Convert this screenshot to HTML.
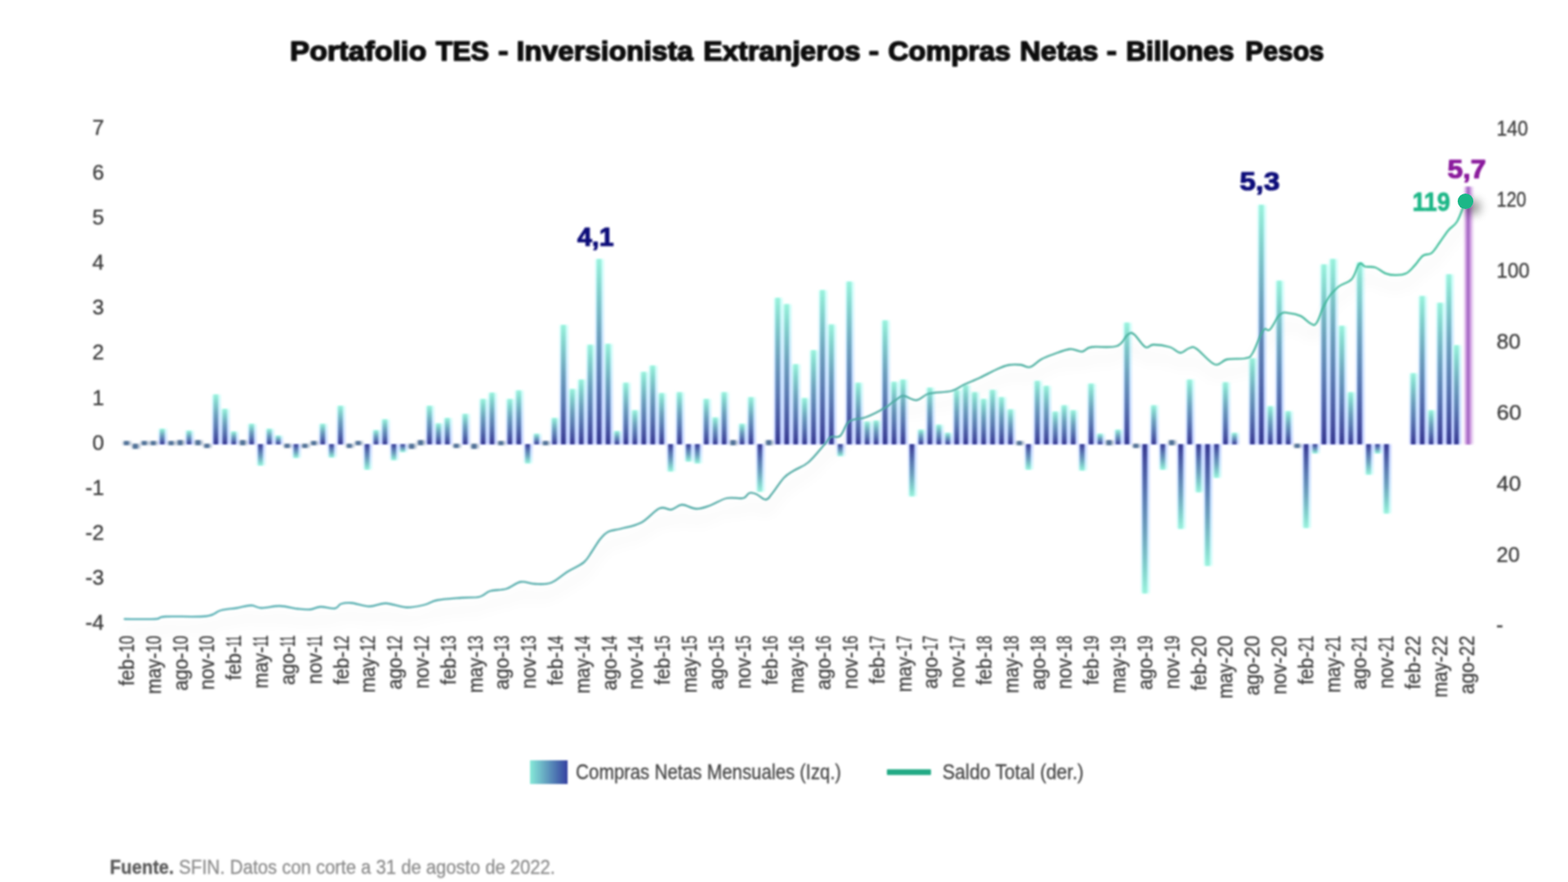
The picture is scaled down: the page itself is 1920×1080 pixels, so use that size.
<!DOCTYPE html>
<html lang="es">
<head>
<meta charset="utf-8">
<title>Portafolio TES - Inversionista Extranjeros</title>
<style>
html,body{margin:0;padding:0;background:#fff;}
body{width:1920px;height:1080px;overflow:hidden;font-family:"Liberation Sans",sans-serif;}
svg{display:block;}
text{font-family:"Liberation Sans",sans-serif;}
.ax{font-size:26px;fill:#3c3c3c;stroke:#3c3c3c;stroke-width:0.35px;}

.xl{font-size:25px;fill:#3c3c3c;stroke:#3c3c3c;stroke-width:0.35px;}
.ttl{font-size:33.5px;font-weight:bold;fill:#0a0a0a;stroke:#0a0a0a;stroke-width:1.5px;stroke-linejoin:round;}
.lg{font-size:25px;fill:#444;stroke:#444;stroke-width:0.3px;}
.ft{font-size:23px;fill:#8c8c8c;stroke:#8c8c8c;stroke-width:0.3px;}
.ftb{font-weight:bold;fill:#5a5a5a;stroke:#5a5a5a;}
.an{font-size:32px;font-weight:bold;stroke-width:1.2px;stroke-linejoin:round;}
</style>
</head>
<body>
<svg width="1920" height="1080" viewBox="0 0 1920 1080">
<defs>
<linearGradient id="gp" x1="0" y1="1" x2="0" y2="0">
<stop offset="0" stop-color="#33368e"/><stop offset="0.1" stop-color="#444d9d"/><stop offset="0.35" stop-color="#5b7ab1"/><stop offset="0.6" stop-color="#6ea2bd"/><stop offset="0.85" stop-color="#84d4cd"/><stop offset="1" stop-color="#9af2dc"/>
</linearGradient>
<linearGradient id="gn" x1="0" y1="0" x2="0" y2="1">
<stop offset="0" stop-color="#33368e"/><stop offset="0.1" stop-color="#444d9d"/><stop offset="0.35" stop-color="#5b7ab1"/><stop offset="0.6" stop-color="#6ea2bd"/><stop offset="0.85" stop-color="#84d4cd"/><stop offset="1" stop-color="#9af2dc"/>
</linearGradient>
<linearGradient id="hp" x1="0" y1="1" x2="0" y2="0"><stop offset="0" stop-color="#8098ff"/><stop offset="0.55" stop-color="#90c8ff"/><stop offset="1" stop-color="#98fff0"/></linearGradient>
<linearGradient id="hn" x1="0" y1="0" x2="0" y2="1"><stop offset="0" stop-color="#8098ff"/><stop offset="0.55" stop-color="#90c8ff"/><stop offset="1" stop-color="#98fff0"/></linearGradient>
<linearGradient id="gv" x1="0" y1="0" x2="1" y2="0"><stop offset="0" stop-color="#dca8ea"/><stop offset="0.5" stop-color="#9a5cbc"/><stop offset="1" stop-color="#dca8ea"/></linearGradient>
<linearGradient id="gline" gradientUnits="userSpaceOnUse" x1="150" y1="0" x2="1800" y2="0"><stop offset="0" stop-color="#58b0b6"/><stop offset="0.5" stop-color="#4ea8a2"/><stop offset="0.85" stop-color="#45b49c"/><stop offset="1" stop-color="#3abf98"/></linearGradient>
<linearGradient id="gl" x1="0" y1="0" x2="1" y2="0">
<stop offset="0" stop-color="#86ead8"/><stop offset="1" stop-color="#3440a0"/>
</linearGradient>
<filter id="glow" x="-2%" y="-2%" width="104%" height="104%"><feGaussianBlur stdDeviation="1.6"/></filter>
<filter id="bl" x="-2%" y="-2%" width="104%" height="104%"><feGaussianBlur stdDeviation="0.9"/></filter>
<filter id="bt" x="-2%" y="-10%" width="104%" height="120%"><feGaussianBlur stdDeviation="0.95"/></filter>
<filter id="sh" x="-5%" y="-20%" width="110%" height="150%">
<feGaussianBlur in="SourceAlpha" stdDeviation="9" result="b"/><feOffset in="b" dx="0" dy="15" result="o"/>
<feComponentTransfer in="o" result="s"><feFuncA type="linear" slope="0.13"/></feComponentTransfer>
<feGaussianBlur in="SourceGraphic" stdDeviation="0.9" result="g"/>
<feMerge><feMergeNode in="s"/><feMergeNode in="g"/></feMerge>
</filter>
<filter id="sd" x="-100%" y="-100%" width="300%" height="300%">
<feGaussianBlur in="SourceAlpha" stdDeviation="6"/><feOffset dx="9" dy="7"/>
<feComponentTransfer><feFuncA type="linear" slope="0.4"/></feComponentTransfer>
<feMerge><feMergeNode/><feMergeNode in="SourceGraphic"/></feMerge>
</filter>
</defs>
<rect width="1920" height="1080" fill="#ffffff"/>
<text class="ttl" y="74" filter="url(#bt)"><tspan x="355" textLength="167.5" lengthAdjust="spacingAndGlyphs">Portafolio</tspan> <tspan x="533.75" textLength="65" lengthAdjust="spacingAndGlyphs">TES</tspan> <tspan x="610" textLength="12.5" lengthAdjust="spacingAndGlyphs">-</tspan> <tspan x="632.5" textLength="216.25" lengthAdjust="spacingAndGlyphs">Inversionista</tspan> <tspan x="861.25" textLength="192.5" lengthAdjust="spacingAndGlyphs">Extranjeros</tspan> <tspan x="1063.75" textLength="12.5" lengthAdjust="spacingAndGlyphs">-</tspan> <tspan x="1087.5" textLength="150" lengthAdjust="spacingAndGlyphs">Compras</tspan> <tspan x="1248.75" textLength="96.25" lengthAdjust="spacingAndGlyphs">Netas</tspan> <tspan x="1355" textLength="12.5" lengthAdjust="spacingAndGlyphs">-</tspan> <tspan x="1378.75" textLength="132.5" lengthAdjust="spacingAndGlyphs">Billones</tspan> <tspan x="1525" textLength="96.25" lengthAdjust="spacingAndGlyphs">Pesos</tspan></text>
<g class="ax" text-anchor="end" filter="url(#bt)">
<text x="127.5" y="164.9">7</text>
<text x="127.5" y="220">6</text>
<text x="127.5" y="275.1">5</text>
<text x="127.5" y="330.2">4</text>
<text x="127.5" y="385.3">3</text>
<text x="127.5" y="440.4">2</text>
<text x="127.5" y="495.5">1</text>
<text x="127.5" y="550.6">0</text>
<text x="127.5" y="605.7">-1</text>
<text x="127.5" y="660.8">-2</text>
<text x="127.5" y="715.9">-3</text>
<text x="127.5" y="771">-4</text>
</g>
<g class="ax" filter="url(#bt)">
<text x="1832.5" y="166.4" textLength="38.5" lengthAdjust="spacingAndGlyphs">140</text>
<text x="1832.5" y="253.3" textLength="36.5" lengthAdjust="spacingAndGlyphs">120</text>
<text x="1832.5" y="340.2" textLength="40.5" lengthAdjust="spacingAndGlyphs">100</text>
<text x="1832.5" y="427.1" textLength="29.5" lengthAdjust="spacingAndGlyphs">80</text>
<text x="1832.5" y="514" textLength="30.5" lengthAdjust="spacingAndGlyphs">60</text>
<text x="1832.5" y="600.9" textLength="30" lengthAdjust="spacingAndGlyphs">40</text>
<text x="1832.5" y="687.8" textLength="28.5" lengthAdjust="spacingAndGlyphs">20</text>
<text x="1832" y="773.5">-</text>
</g>
<g filter="url(#glow)" opacity="0.5">
<rect x="150.2" y="540.3" width="10.5" height="4.5" fill="#4f6f96"/>
<rect x="161.15" y="543.7" width="10.5" height="5.53" fill="#4f6f96"/>
<rect x="172.09" y="540.3" width="10.5" height="4.5" fill="#4f6f96"/>
<rect x="183.04" y="540.3" width="10.5" height="4.5" fill="#4f6f96"/>
<rect x="193.99" y="525.2" width="10.5" height="18.8" fill="url(#hp)"/>
<rect x="204.94" y="540.3" width="10.5" height="4.5" fill="#4f6f96"/>
<rect x="215.88" y="539.27" width="10.5" height="5.53" fill="#4f6f96"/>
<rect x="226.83" y="527.41" width="10.5" height="16.59" fill="url(#hp)"/>
<rect x="237.78" y="539.27" width="10.5" height="5.53" fill="#4f6f96"/>
<rect x="248.72" y="543.7" width="10.5" height="4.5" fill="#4f6f96"/>
<rect x="259.67" y="483.17" width="10.5" height="60.83" fill="url(#hp)"/>
<rect x="270.62" y="500.87" width="10.5" height="43.13" fill="url(#hp)"/>
<rect x="281.56" y="528.52" width="10.5" height="15.48" fill="url(#hp)"/>
<rect x="292.51" y="539.27" width="10.5" height="5.53" fill="#4f6f96"/>
<rect x="303.4" y="519.12" width="10.5" height="24.88" fill="url(#hp)"/>
<rect x="314.28" y="544" width="10.5" height="25.99" fill="url(#hn)"/>
<rect x="325.17" y="525.2" width="10.5" height="18.8" fill="url(#hp)"/>
<rect x="336.05" y="533.49" width="10.5" height="10.51" fill="url(#hp)"/>
<rect x="346.94" y="543.7" width="10.5" height="4.5" fill="#4f6f96"/>
<rect x="357.82" y="544" width="10.5" height="16.59" fill="url(#hn)"/>
<rect x="368.71" y="543.7" width="10.5" height="4.5" fill="#4f6f96"/>
<rect x="379.59" y="540.3" width="10.5" height="4.5" fill="#4f6f96"/>
<rect x="390.48" y="519.12" width="10.5" height="24.88" fill="url(#hp)"/>
<rect x="401.36" y="544" width="10.5" height="16.04" fill="url(#hn)"/>
<rect x="412.25" y="497" width="10.5" height="47" fill="url(#hp)"/>
<rect x="423.13" y="543.7" width="10.5" height="4.5" fill="#4f6f96"/>
<rect x="434.02" y="540.3" width="10.5" height="4.5" fill="#4f6f96"/>
<rect x="444.9" y="544" width="10.5" height="30.97" fill="url(#hn)"/>
<rect x="455.79" y="526.86" width="10.5" height="17.14" fill="url(#hp)"/>
<rect x="466.67" y="513.59" width="10.5" height="30.41" fill="url(#hp)"/>
<rect x="477.56" y="544" width="10.5" height="19.35" fill="url(#hn)"/>
<rect x="488.49" y="544" width="10.5" height="9.4" fill="url(#hn)"/>
<rect x="499.42" y="543.7" width="10.5" height="5.53" fill="#4f6f96"/>
<rect x="510.35" y="539.27" width="10.5" height="5.53" fill="#4f6f96"/>
<rect x="521.28" y="497" width="10.5" height="47" fill="url(#hp)"/>
<rect x="532.21" y="518.56" width="10.5" height="25.44" fill="url(#hp)"/>
<rect x="543.14" y="511.93" width="10.5" height="32.07" fill="url(#hp)"/>
<rect x="554.07" y="543.7" width="10.5" height="4.5" fill="#4f6f96"/>
<rect x="565" y="506.95" width="10.5" height="37.05" fill="url(#hp)"/>
<rect x="575.93" y="543.7" width="10.5" height="5.53" fill="#4f6f96"/>
<rect x="586.86" y="488.7" width="10.5" height="55.3" fill="url(#hp)"/>
<rect x="597.79" y="480.96" width="10.5" height="63.04" fill="url(#hp)"/>
<rect x="608.72" y="540.3" width="10.5" height="4.5" fill="#4f6f96"/>
<rect x="619.65" y="488.7" width="10.5" height="55.3" fill="url(#hp)"/>
<rect x="630.58" y="478.19" width="10.5" height="65.81" fill="url(#hp)"/>
<rect x="641.51" y="544" width="10.5" height="23.23" fill="url(#hn)"/>
<rect x="652.45" y="531.28" width="10.5" height="12.72" fill="url(#hp)"/>
<rect x="663.38" y="540.3" width="10.5" height="4.5" fill="#4f6f96"/>
<rect x="674.31" y="511.93" width="10.5" height="32.07" fill="url(#hp)"/>
<rect x="685.24" y="398.01" width="10.5" height="145.99" fill="url(#hp)"/>
<rect x="696.17" y="476.53" width="10.5" height="67.47" fill="url(#hp)"/>
<rect x="707.1" y="464.92" width="10.5" height="79.08" fill="url(#hp)"/>
<rect x="718.03" y="422.34" width="10.5" height="121.66" fill="url(#hp)"/>
<rect x="728.96" y="317.27" width="10.5" height="226.73" fill="url(#hp)"/>
<rect x="739.89" y="421.23" width="10.5" height="122.77" fill="url(#hp)"/>
<rect x="750.83" y="527.96" width="10.5" height="16.04" fill="url(#hp)"/>
<rect x="761.77" y="468.79" width="10.5" height="75.21" fill="url(#hp)"/>
<rect x="772.71" y="502.52" width="10.5" height="41.47" fill="url(#hp)"/>
<rect x="783.65" y="455.52" width="10.5" height="88.48" fill="url(#hp)"/>
<rect x="794.58" y="447.78" width="10.5" height="96.22" fill="url(#hp)"/>
<rect x="805.52" y="481.51" width="10.5" height="62.49" fill="url(#hp)"/>
<rect x="816.46" y="544" width="10.5" height="33.18" fill="url(#hn)"/>
<rect x="827.4" y="480.41" width="10.5" height="63.59" fill="url(#hp)"/>
<rect x="838.34" y="544" width="10.5" height="21.01" fill="url(#hn)"/>
<rect x="849.28" y="544" width="10.5" height="23.23" fill="url(#hn)"/>
<rect x="860.22" y="488.7" width="10.5" height="55.3" fill="url(#hp)"/>
<rect x="871.16" y="511.37" width="10.5" height="32.63" fill="url(#hp)"/>
<rect x="882.1" y="480.41" width="10.5" height="63.59" fill="url(#hp)"/>
<rect x="893.04" y="539.27" width="10.5" height="5.53" fill="#4f6f96"/>
<rect x="903.98" y="519.12" width="10.5" height="24.88" fill="url(#hp)"/>
<rect x="914.92" y="486.49" width="10.5" height="57.51" fill="url(#hp)"/>
<rect x="925.86" y="544" width="10.5" height="58.06" fill="url(#hn)"/>
<rect x="936.8" y="539.27" width="10.5" height="5.53" fill="#4f6f96"/>
<rect x="947.73" y="364.83" width="10.5" height="179.17" fill="url(#hp)"/>
<rect x="958.67" y="372.57" width="10.5" height="171.43" fill="url(#hp)"/>
<rect x="969.61" y="446.12" width="10.5" height="97.88" fill="url(#hp)"/>
<rect x="980.55" y="487.59" width="10.5" height="56.41" fill="url(#hp)"/>
<rect x="991.49" y="428.98" width="10.5" height="115.02" fill="url(#hp)"/>
<rect x="1002.43" y="355.43" width="10.5" height="188.57" fill="url(#hp)"/>
<rect x="1013.37" y="397.46" width="10.5" height="146.54" fill="url(#hp)"/>
<rect x="1024.31" y="544" width="10.5" height="14.38" fill="url(#hn)"/>
<rect x="1035.28" y="344.92" width="10.5" height="199.08" fill="url(#hp)"/>
<rect x="1046.24" y="468.79" width="10.5" height="75.21" fill="url(#hp)"/>
<rect x="1057.21" y="516.35" width="10.5" height="27.65" fill="url(#hp)"/>
<rect x="1068.17" y="515.24" width="10.5" height="28.76" fill="url(#hp)"/>
<rect x="1079.14" y="392.48" width="10.5" height="151.52" fill="url(#hp)"/>
<rect x="1090.11" y="467.69" width="10.5" height="76.31" fill="url(#hp)"/>
<rect x="1101.07" y="464.92" width="10.5" height="79.08" fill="url(#hp)"/>
<rect x="1112.04" y="544" width="10.5" height="63.59" fill="url(#hn)"/>
<rect x="1123" y="526.3" width="10.5" height="17.7" fill="url(#hp)"/>
<rect x="1133.97" y="474.88" width="10.5" height="69.12" fill="url(#hp)"/>
<rect x="1144.94" y="520.22" width="10.5" height="23.78" fill="url(#hp)"/>
<rect x="1155.9" y="530.17" width="10.5" height="13.82" fill="url(#hp)"/>
<rect x="1166.87" y="477.64" width="10.5" height="66.36" fill="url(#hp)"/>
<rect x="1177.83" y="471.56" width="10.5" height="72.44" fill="url(#hp)"/>
<rect x="1188.8" y="480.41" width="10.5" height="63.59" fill="url(#hp)"/>
<rect x="1199.77" y="488.7" width="10.5" height="55.3" fill="url(#hp)"/>
<rect x="1210.73" y="477.64" width="10.5" height="66.36" fill="url(#hp)"/>
<rect x="1221.7" y="486.49" width="10.5" height="57.51" fill="url(#hp)"/>
<rect x="1232.66" y="501.42" width="10.5" height="42.58" fill="url(#hp)"/>
<rect x="1243.63" y="540.3" width="10.5" height="4.5" fill="#4f6f96"/>
<rect x="1254.6" y="544" width="10.5" height="30.97" fill="url(#hn)"/>
<rect x="1265.57" y="466.58" width="10.5" height="77.42" fill="url(#hp)"/>
<rect x="1276.54" y="472.66" width="10.5" height="71.34" fill="url(#hp)"/>
<rect x="1287.51" y="504.18" width="10.5" height="39.82" fill="url(#hp)"/>
<rect x="1298.48" y="496.44" width="10.5" height="47.56" fill="url(#hp)"/>
<rect x="1309.45" y="502.52" width="10.5" height="41.47" fill="url(#hp)"/>
<rect x="1320.42" y="544" width="10.5" height="32.07" fill="url(#hn)"/>
<rect x="1331.39" y="469.9" width="10.5" height="74.1" fill="url(#hp)"/>
<rect x="1342.37" y="531.28" width="10.5" height="12.72" fill="url(#hp)"/>
<rect x="1353.34" y="539.27" width="10.5" height="5.53" fill="#4f6f96"/>
<rect x="1364.31" y="526.3" width="10.5" height="17.7" fill="url(#hp)"/>
<rect x="1375.28" y="395.24" width="10.5" height="148.76" fill="url(#hp)"/>
<rect x="1386.25" y="543.7" width="10.5" height="4.5" fill="#4f6f96"/>
<rect x="1397.22" y="544" width="10.5" height="182.49" fill="url(#hn)"/>
<rect x="1408.19" y="496.44" width="10.5" height="47.56" fill="url(#hp)"/>
<rect x="1419.16" y="544" width="10.5" height="30.97" fill="url(#hn)"/>
<rect x="1430.14" y="539.27" width="10.5" height="5.53" fill="#4f6f96"/>
<rect x="1441.11" y="544" width="10.5" height="103.41" fill="url(#hn)"/>
<rect x="1452.08" y="464.92" width="10.5" height="79.08" fill="url(#hp)"/>
<rect x="1463.05" y="544" width="10.5" height="58.62" fill="url(#hn)"/>
<rect x="1474.02" y="544" width="10.5" height="148.76" fill="url(#hn)"/>
<rect x="1484.99" y="544" width="10.5" height="40.92" fill="url(#hn)"/>
<rect x="1495.96" y="468.24" width="10.5" height="75.76" fill="url(#hp)"/>
<rect x="1506.93" y="530.17" width="10.5" height="13.82" fill="url(#hp)"/>
<rect x="1528.88" y="438.93" width="10.5" height="105.07" fill="url(#hp)"/>
<rect x="1539.85" y="250.91" width="10.5" height="293.09" fill="url(#hp)"/>
<rect x="1550.82" y="497.55" width="10.5" height="46.45" fill="url(#hp)"/>
<rect x="1561.79" y="343.81" width="10.5" height="200.19" fill="url(#hp)"/>
<rect x="1572.76" y="503.63" width="10.5" height="40.37" fill="url(#hp)"/>
<rect x="1583.7" y="543.7" width="10.5" height="4.5" fill="#4f6f96"/>
<rect x="1594.63" y="544" width="10.5" height="102.3" fill="url(#hn)"/>
<rect x="1605.57" y="544" width="10.5" height="11.06" fill="url(#hn)"/>
<rect x="1616.5" y="323.91" width="10.5" height="220.09" fill="url(#hp)"/>
<rect x="1627.44" y="317.27" width="10.5" height="226.73" fill="url(#hp)"/>
<rect x="1638.38" y="399.11" width="10.5" height="144.89" fill="url(#hp)"/>
<rect x="1649.31" y="480.41" width="10.5" height="63.59" fill="url(#hp)"/>
<rect x="1660.25" y="321.69" width="10.5" height="222.31" fill="url(#hp)"/>
<rect x="1671.18" y="544" width="10.5" height="37.05" fill="url(#hn)"/>
<rect x="1682.12" y="544" width="10.5" height="11.06" fill="url(#hn)"/>
<rect x="1693.05" y="544" width="10.5" height="84.61" fill="url(#hn)"/>
<rect x="1725.86" y="457.18" width="10.5" height="86.82" fill="url(#hp)"/>
<rect x="1736.8" y="362.62" width="10.5" height="181.38" fill="url(#hp)"/>
<rect x="1747.73" y="502.52" width="10.5" height="41.47" fill="url(#hp)"/>
<rect x="1758.67" y="370.91" width="10.5" height="173.09" fill="url(#hp)"/>
<rect x="1769.61" y="336.07" width="10.5" height="207.93" fill="url(#hp)"/>
<rect x="1778.75" y="422.89" width="10.5" height="121.11" fill="url(#hp)"/>
<rect x="1792.65" y="228.79" width="11.5" height="315.21" fill="url(#gv)"/>
</g>
<g filter="url(#bl)">
<rect x="152.05" y="540.3" width="5.6" height="4.5" fill="#4f6f96"/>
<rect x="163" y="543.7" width="5.6" height="5.53" fill="#4f6f96"/>
<rect x="173.94" y="540.3" width="5.6" height="4.5" fill="#4f6f96"/>
<rect x="184.89" y="540.3" width="5.6" height="4.5" fill="#4f6f96"/>
<rect x="195.84" y="525.2" width="5.6" height="18.8" fill="url(#gp)"/>
<rect x="206.79" y="540.3" width="5.6" height="4.5" fill="#4f6f96"/>
<rect x="217.73" y="539.27" width="5.6" height="5.53" fill="#4f6f96"/>
<rect x="228.68" y="527.41" width="5.6" height="16.59" fill="url(#gp)"/>
<rect x="239.63" y="539.27" width="5.6" height="5.53" fill="#4f6f96"/>
<rect x="250.57" y="543.7" width="5.6" height="4.5" fill="#4f6f96"/>
<rect x="261.52" y="483.17" width="5.6" height="60.83" fill="url(#gp)"/>
<rect x="272.47" y="500.87" width="5.6" height="43.13" fill="url(#gp)"/>
<rect x="283.41" y="528.52" width="5.6" height="15.48" fill="url(#gp)"/>
<rect x="294.36" y="539.27" width="5.6" height="5.53" fill="#4f6f96"/>
<rect x="305.25" y="519.12" width="5.6" height="24.88" fill="url(#gp)"/>
<rect x="316.13" y="544" width="5.6" height="25.99" fill="url(#gn)"/>
<rect x="327.02" y="525.2" width="5.6" height="18.8" fill="url(#gp)"/>
<rect x="337.9" y="533.49" width="5.6" height="10.51" fill="url(#gp)"/>
<rect x="348.79" y="543.7" width="5.6" height="4.5" fill="#4f6f96"/>
<rect x="359.67" y="544" width="5.6" height="16.59" fill="url(#gn)"/>
<rect x="370.56" y="543.7" width="5.6" height="4.5" fill="#4f6f96"/>
<rect x="381.44" y="540.3" width="5.6" height="4.5" fill="#4f6f96"/>
<rect x="392.33" y="519.12" width="5.6" height="24.88" fill="url(#gp)"/>
<rect x="403.21" y="544" width="5.6" height="16.04" fill="url(#gn)"/>
<rect x="414.1" y="497" width="5.6" height="47" fill="url(#gp)"/>
<rect x="424.98" y="543.7" width="5.6" height="4.5" fill="#4f6f96"/>
<rect x="435.87" y="540.3" width="5.6" height="4.5" fill="#4f6f96"/>
<rect x="446.75" y="544" width="5.6" height="30.97" fill="url(#gn)"/>
<rect x="457.64" y="526.86" width="5.6" height="17.14" fill="url(#gp)"/>
<rect x="468.52" y="513.59" width="5.6" height="30.41" fill="url(#gp)"/>
<rect x="479.41" y="544" width="5.6" height="19.35" fill="url(#gn)"/>
<rect x="490.34" y="544" width="5.6" height="9.4" fill="url(#gn)"/>
<rect x="501.27" y="543.7" width="5.6" height="5.53" fill="#4f6f96"/>
<rect x="512.2" y="539.27" width="5.6" height="5.53" fill="#4f6f96"/>
<rect x="523.13" y="497" width="5.6" height="47" fill="url(#gp)"/>
<rect x="534.06" y="518.56" width="5.6" height="25.44" fill="url(#gp)"/>
<rect x="544.99" y="511.93" width="5.6" height="32.07" fill="url(#gp)"/>
<rect x="555.92" y="543.7" width="5.6" height="4.5" fill="#4f6f96"/>
<rect x="566.85" y="506.95" width="5.6" height="37.05" fill="url(#gp)"/>
<rect x="577.78" y="543.7" width="5.6" height="5.53" fill="#4f6f96"/>
<rect x="588.71" y="488.7" width="5.6" height="55.3" fill="url(#gp)"/>
<rect x="599.64" y="480.96" width="5.6" height="63.04" fill="url(#gp)"/>
<rect x="610.57" y="540.3" width="5.6" height="4.5" fill="#4f6f96"/>
<rect x="621.5" y="488.7" width="5.6" height="55.3" fill="url(#gp)"/>
<rect x="632.43" y="478.19" width="5.6" height="65.81" fill="url(#gp)"/>
<rect x="643.37" y="544" width="5.6" height="23.23" fill="url(#gn)"/>
<rect x="654.3" y="531.28" width="5.6" height="12.72" fill="url(#gp)"/>
<rect x="665.23" y="540.3" width="5.6" height="4.5" fill="#4f6f96"/>
<rect x="676.16" y="511.93" width="5.6" height="32.07" fill="url(#gp)"/>
<rect x="687.09" y="398.01" width="5.6" height="145.99" fill="url(#gp)"/>
<rect x="698.02" y="476.53" width="5.6" height="67.47" fill="url(#gp)"/>
<rect x="708.95" y="464.92" width="5.6" height="79.08" fill="url(#gp)"/>
<rect x="719.88" y="422.34" width="5.6" height="121.66" fill="url(#gp)"/>
<rect x="730.81" y="317.27" width="5.6" height="226.73" fill="url(#gp)"/>
<rect x="741.74" y="421.23" width="5.6" height="122.77" fill="url(#gp)"/>
<rect x="752.68" y="527.96" width="5.6" height="16.04" fill="url(#gp)"/>
<rect x="763.62" y="468.79" width="5.6" height="75.21" fill="url(#gp)"/>
<rect x="774.56" y="502.52" width="5.6" height="41.47" fill="url(#gp)"/>
<rect x="785.5" y="455.52" width="5.6" height="88.48" fill="url(#gp)"/>
<rect x="796.43" y="447.78" width="5.6" height="96.22" fill="url(#gp)"/>
<rect x="807.37" y="481.51" width="5.6" height="62.49" fill="url(#gp)"/>
<rect x="818.31" y="544" width="5.6" height="33.18" fill="url(#gn)"/>
<rect x="829.25" y="480.41" width="5.6" height="63.59" fill="url(#gp)"/>
<rect x="840.19" y="544" width="5.6" height="21.01" fill="url(#gn)"/>
<rect x="851.13" y="544" width="5.6" height="23.23" fill="url(#gn)"/>
<rect x="862.07" y="488.7" width="5.6" height="55.3" fill="url(#gp)"/>
<rect x="873.01" y="511.37" width="5.6" height="32.63" fill="url(#gp)"/>
<rect x="883.95" y="480.41" width="5.6" height="63.59" fill="url(#gp)"/>
<rect x="894.89" y="539.27" width="5.6" height="5.53" fill="#4f6f96"/>
<rect x="905.83" y="519.12" width="5.6" height="24.88" fill="url(#gp)"/>
<rect x="916.77" y="486.49" width="5.6" height="57.51" fill="url(#gp)"/>
<rect x="927.71" y="544" width="5.6" height="58.06" fill="url(#gn)"/>
<rect x="938.65" y="539.27" width="5.6" height="5.53" fill="#4f6f96"/>
<rect x="949.58" y="364.83" width="5.6" height="179.17" fill="url(#gp)"/>
<rect x="960.52" y="372.57" width="5.6" height="171.43" fill="url(#gp)"/>
<rect x="971.46" y="446.12" width="5.6" height="97.88" fill="url(#gp)"/>
<rect x="982.4" y="487.59" width="5.6" height="56.41" fill="url(#gp)"/>
<rect x="993.34" y="428.98" width="5.6" height="115.02" fill="url(#gp)"/>
<rect x="1004.28" y="355.43" width="5.6" height="188.57" fill="url(#gp)"/>
<rect x="1015.22" y="397.46" width="5.6" height="146.54" fill="url(#gp)"/>
<rect x="1026.16" y="544" width="5.6" height="14.38" fill="url(#gn)"/>
<rect x="1037.13" y="344.92" width="5.6" height="199.08" fill="url(#gp)"/>
<rect x="1048.09" y="468.79" width="5.6" height="75.21" fill="url(#gp)"/>
<rect x="1059.06" y="516.35" width="5.6" height="27.65" fill="url(#gp)"/>
<rect x="1070.02" y="515.24" width="5.6" height="28.76" fill="url(#gp)"/>
<rect x="1080.99" y="392.48" width="5.6" height="151.52" fill="url(#gp)"/>
<rect x="1091.96" y="467.69" width="5.6" height="76.31" fill="url(#gp)"/>
<rect x="1102.92" y="464.92" width="5.6" height="79.08" fill="url(#gp)"/>
<rect x="1113.89" y="544" width="5.6" height="63.59" fill="url(#gn)"/>
<rect x="1124.85" y="526.3" width="5.6" height="17.7" fill="url(#gp)"/>
<rect x="1135.82" y="474.88" width="5.6" height="69.12" fill="url(#gp)"/>
<rect x="1146.79" y="520.22" width="5.6" height="23.78" fill="url(#gp)"/>
<rect x="1157.75" y="530.17" width="5.6" height="13.82" fill="url(#gp)"/>
<rect x="1168.72" y="477.64" width="5.6" height="66.36" fill="url(#gp)"/>
<rect x="1179.68" y="471.56" width="5.6" height="72.44" fill="url(#gp)"/>
<rect x="1190.65" y="480.41" width="5.6" height="63.59" fill="url(#gp)"/>
<rect x="1201.62" y="488.7" width="5.6" height="55.3" fill="url(#gp)"/>
<rect x="1212.58" y="477.64" width="5.6" height="66.36" fill="url(#gp)"/>
<rect x="1223.55" y="486.49" width="5.6" height="57.51" fill="url(#gp)"/>
<rect x="1234.51" y="501.42" width="5.6" height="42.58" fill="url(#gp)"/>
<rect x="1245.48" y="540.3" width="5.6" height="4.5" fill="#4f6f96"/>
<rect x="1256.45" y="544" width="5.6" height="30.97" fill="url(#gn)"/>
<rect x="1267.42" y="466.58" width="5.6" height="77.42" fill="url(#gp)"/>
<rect x="1278.39" y="472.66" width="5.6" height="71.34" fill="url(#gp)"/>
<rect x="1289.36" y="504.18" width="5.6" height="39.82" fill="url(#gp)"/>
<rect x="1300.33" y="496.44" width="5.6" height="47.56" fill="url(#gp)"/>
<rect x="1311.3" y="502.52" width="5.6" height="41.47" fill="url(#gp)"/>
<rect x="1322.27" y="544" width="5.6" height="32.07" fill="url(#gn)"/>
<rect x="1333.24" y="469.9" width="5.6" height="74.1" fill="url(#gp)"/>
<rect x="1344.22" y="531.28" width="5.6" height="12.72" fill="url(#gp)"/>
<rect x="1355.19" y="539.27" width="5.6" height="5.53" fill="#4f6f96"/>
<rect x="1366.16" y="526.3" width="5.6" height="17.7" fill="url(#gp)"/>
<rect x="1377.13" y="395.24" width="5.6" height="148.76" fill="url(#gp)"/>
<rect x="1388.1" y="543.7" width="5.6" height="4.5" fill="#4f6f96"/>
<rect x="1399.07" y="544" width="5.6" height="182.49" fill="url(#gn)"/>
<rect x="1410.04" y="496.44" width="5.6" height="47.56" fill="url(#gp)"/>
<rect x="1421.01" y="544" width="5.6" height="30.97" fill="url(#gn)"/>
<rect x="1431.99" y="539.27" width="5.6" height="5.53" fill="#4f6f96"/>
<rect x="1442.96" y="544" width="5.6" height="103.41" fill="url(#gn)"/>
<rect x="1453.93" y="464.92" width="5.6" height="79.08" fill="url(#gp)"/>
<rect x="1464.9" y="544" width="5.6" height="58.62" fill="url(#gn)"/>
<rect x="1475.87" y="544" width="5.6" height="148.76" fill="url(#gn)"/>
<rect x="1486.84" y="544" width="5.6" height="40.92" fill="url(#gn)"/>
<rect x="1497.81" y="468.24" width="5.6" height="75.76" fill="url(#gp)"/>
<rect x="1508.78" y="530.17" width="5.6" height="13.82" fill="url(#gp)"/>
<rect x="1530.73" y="438.93" width="5.6" height="105.07" fill="url(#gp)"/>
<rect x="1541.7" y="250.91" width="5.6" height="293.09" fill="url(#gp)"/>
<rect x="1552.67" y="497.55" width="5.6" height="46.45" fill="url(#gp)"/>
<rect x="1563.64" y="343.81" width="5.6" height="200.19" fill="url(#gp)"/>
<rect x="1574.61" y="503.63" width="5.6" height="40.37" fill="url(#gp)"/>
<rect x="1585.55" y="543.7" width="5.6" height="4.5" fill="#4f6f96"/>
<rect x="1596.48" y="544" width="5.6" height="102.3" fill="url(#gn)"/>
<rect x="1607.42" y="544" width="5.6" height="11.06" fill="url(#gn)"/>
<rect x="1618.35" y="323.91" width="5.6" height="220.09" fill="url(#gp)"/>
<rect x="1629.29" y="317.27" width="5.6" height="226.73" fill="url(#gp)"/>
<rect x="1640.23" y="399.11" width="5.6" height="144.89" fill="url(#gp)"/>
<rect x="1651.16" y="480.41" width="5.6" height="63.59" fill="url(#gp)"/>
<rect x="1662.1" y="321.69" width="5.6" height="222.31" fill="url(#gp)"/>
<rect x="1673.03" y="544" width="5.6" height="37.05" fill="url(#gn)"/>
<rect x="1683.97" y="544" width="5.6" height="11.06" fill="url(#gn)"/>
<rect x="1694.9" y="544" width="5.6" height="84.61" fill="url(#gn)"/>
<rect x="1727.71" y="457.18" width="5.6" height="86.82" fill="url(#gp)"/>
<rect x="1738.65" y="362.62" width="5.6" height="181.38" fill="url(#gp)"/>
<rect x="1749.58" y="502.52" width="5.6" height="41.47" fill="url(#gp)"/>
<rect x="1760.52" y="370.91" width="5.6" height="173.09" fill="url(#gp)"/>
<rect x="1771.46" y="336.07" width="5.6" height="207.93" fill="url(#gp)"/>
<rect x="1780.6" y="422.89" width="5.6" height="121.11" fill="url(#gp)"/>
<rect x="1794.5" y="228.79" width="6.6" height="315.21" fill="url(#gv)"/>
</g>
<path d="M152.5,758 C159.25,758 181,758.54 190,758 C199,757.46 191.25,755.63 202.5,755 C213.75,754.37 240.35,755.85 252.5,754.5 C264.65,753.15 263.25,749.3 270,747.5 C276.75,745.7 283.25,745.62 290,744.5 C296.75,743.38 302.1,741.25 307.5,741.25 C312.9,741.25 313.7,744.37 320,744.5 C326.3,744.63 334.4,741.82 342.5,742 C350.6,742.18 358.25,744.74 365,745.5 C371.75,746.26 375.05,746.7 380,746.25 C384.95,745.8 387.1,743.23 392.5,743 C397.9,742.77 405.5,745.63 410,745 C414.5,744.37 413.9,740.72 417.5,739.5 C421.1,738.28 423.7,737.71 430,738.25 C436.3,738.79 444.85,742.41 452.5,742.5 C460.15,742.59 464.4,738.52 472.5,738.75 C480.6,738.98 488.95,743.43 497.5,743.75 C506.05,744.07 513.25,742.08 520,740.5 C526.75,738.92 526.9,736.53 535,735 C543.1,733.47 555.55,732.76 565,732 C574.45,731.24 581.2,732.24 587.5,730.75 C593.8,729.26 594.15,725.5 600,723.75 C605.85,722 613.25,723.02 620,721 C626.75,718.98 631.2,713.58 637.5,712.5 C643.8,711.42 648.25,714.82 655,715 C661.75,715.18 667.8,716.2 675,713.5 C682.2,710.8 687.8,704.5 695,700 C702.2,695.5 709.6,693 715,688.5 C720.4,684 721.4,680.13 725,675 C728.6,669.87 731.4,664.32 735,660 C738.6,655.68 740.5,653.25 745,651 C749.5,648.75 752.8,649.48 760,647.5 C767.2,645.52 776.45,644.5 785,640 C793.55,635.5 800.84,625.38 807.5,622.5 C814.16,619.62 817.05,624.81 822,624 C826.95,623.19 829.51,618.18 835,618 C840.49,617.82 846.2,622.87 852.5,623 C858.8,623.13 863.25,621.09 870,618.75 C876.75,616.41 882.8,611.58 890,610 C897.2,608.42 905.05,611.12 910,610 C914.95,608.88 914.62,604.65 917.5,603.75 C920.38,602.85 922.4,603.56 926,605 C929.6,606.44 934.08,611.75 937.5,611.75 C940.92,611.75 940.95,609.82 945,605 C949.05,600.18 955.05,590.22 960,585 C964.95,579.78 967.1,579.42 972.5,576 C977.9,572.58 983.25,571.8 990,566 C996.75,560.2 1005.05,549.33 1010,543.75 C1014.95,538.17 1014.12,536.8 1017.5,535 C1020.88,533.2 1024.7,537.17 1028.75,533.75 C1032.8,530.33 1034.38,520.1 1040,516 C1045.62,511.9 1052.35,513.88 1060,511 C1067.65,508.12 1075.3,504.23 1082.5,500 C1089.7,495.77 1095.5,490.2 1100,487.5 C1104.5,484.8 1103.45,484.55 1107.5,485 C1111.55,485.45 1117.1,490.54 1122.5,490 C1127.9,489.46 1129.85,484.02 1137.5,482 C1145.15,479.98 1157.35,480.69 1165,478.75 C1172.65,476.81 1173.7,474.18 1180,471.25 C1186.3,468.32 1192.8,465.88 1200,462.5 C1207.2,459.12 1213.7,455.29 1220,452.5 C1226.3,449.71 1229.6,448.04 1235,447 C1240.4,445.96 1245.28,446.3 1250,446.75 C1254.72,447.2 1256.75,450.71 1261.25,449.5 C1265.75,448.29 1269.83,442.83 1275,440 C1280.17,437.17 1283.7,436 1290,433.75 C1296.3,431.5 1303.7,428.08 1310,427.5 C1316.3,426.92 1320.28,430.95 1325,430.5 C1329.72,430.05 1328.6,426.21 1336.25,425 C1343.9,423.79 1359.4,426.54 1367.5,423.75 C1375.6,420.96 1377.42,412.06 1381.25,409.5 C1385.08,406.94 1384.92,406.71 1388.75,409.5 C1392.58,412.29 1398.22,422.75 1402.5,425 C1406.78,427.25 1407.1,422 1412.5,422 C1417.9,422 1426.65,423.2 1432.5,425 C1438.35,426.8 1440.72,431.77 1445,432 C1449.28,432.23 1452.65,427.15 1456.25,426.25 C1459.85,425.35 1459.38,423.4 1465,427 C1470.62,430.6 1480.75,443.91 1487.5,446.25 C1494.25,448.59 1495.75,441.35 1502.5,440 C1509.25,438.65 1519.38,440.1 1525,438.75 C1530.62,437.4 1529.84,438.65 1533.75,432.5 C1537.66,426.35 1542.88,409.82 1546.7,404.6 C1550.53,399.38 1551.26,407.06 1555,403.5 C1558.74,399.94 1563.36,388.44 1567.5,384.8 C1571.64,381.16 1573.5,382.92 1578,383.3 C1582.5,383.68 1587.64,384.57 1592.5,386.9 C1597.36,389.23 1601.44,394.76 1605,396.25 C1608.56,397.74 1608.92,400.07 1612.3,395.2 C1615.67,390.33 1619.07,377.07 1623.75,369.2 C1628.43,361.33 1632.67,356.4 1638.3,351.5 C1643.92,346.6 1650.3,347.08 1655,342 C1659.7,336.92 1661.39,326.09 1664.4,323.3 C1667.41,320.51 1668.14,325.74 1671.7,326.5 C1675.26,327.26 1679.7,326.01 1684.2,327.5 C1688.7,328.99 1692.2,333.11 1696.7,334.8 C1701.2,336.49 1704.7,336.9 1709.2,336.9 C1713.7,336.9 1717.6,336.87 1721.7,334.8 C1725.8,332.73 1728.26,329.32 1732,325.4 C1735.74,321.48 1738.72,315.81 1742.5,313 C1746.28,310.19 1749.26,312.81 1753,309.8 C1756.74,306.79 1759.57,301.31 1763.3,296.25 C1767.03,291.19 1769.99,286.2 1773.75,281.7 C1777.51,277.2 1780.52,277.5 1784.2,271.25 C1787.88,265 1792.4,251.37 1794.2,247" fill="none" stroke="url(#gline)" stroke-width="2.3" stroke-linejoin="round" stroke-linecap="round" filter="url(#sh)"/>
<circle cx="1794.5" cy="246.5" r="9.6" fill="#1db787" filter="url(#sd)"/>
<g filter="url(#bt)">
<text class="an" x="707" y="301.3" textLength="44.5" lengthAdjust="spacingAndGlyphs" fill="#10107a" stroke="#10107a">4,1</text>
<text class="an" x="1518" y="232.5" textLength="49" lengthAdjust="spacingAndGlyphs" fill="#10107a" stroke="#10107a">5,3</text>
<text class="an" x="1772.5" y="218" textLength="47" lengthAdjust="spacingAndGlyphs" fill="#8a1a9c" stroke="#8a1a9c">5,7</text>
<text class="an" x="1729.5" y="257.5" textLength="46" lengthAdjust="spacingAndGlyphs" fill="#1db787" stroke="#1db787" style="stroke-width:0.9px">119</text>
</g>
<g class="xl" filter="url(#bt)">
<text transform="translate(155.3,778.3) rotate(-90)" y="8.7"><tspan x="-61.55" textLength="40.75" lengthAdjust="spacingAndGlyphs">feb-</tspan><tspan x="-20.8" textLength="20.8" lengthAdjust="spacingAndGlyphs">10</tspan></text>
<text transform="translate(188.11,778.3) rotate(-90)" y="8.7"><tspan x="-71.55" textLength="50.75" lengthAdjust="spacingAndGlyphs">may-</tspan><tspan x="-20.8" textLength="20.8" lengthAdjust="spacingAndGlyphs">10</tspan></text>
<text transform="translate(220.93,778.3) rotate(-90)" y="8.7"><tspan x="-67.55" textLength="46.75" lengthAdjust="spacingAndGlyphs">ago-</tspan><tspan x="-20.8" textLength="20.8" lengthAdjust="spacingAndGlyphs">10</tspan></text>
<text transform="translate(253.74,778.3) rotate(-90)" y="8.7"><tspan x="-66.55" textLength="45.75" lengthAdjust="spacingAndGlyphs">nov-</tspan><tspan x="-20.8" textLength="20.8" lengthAdjust="spacingAndGlyphs">10</tspan></text>
<text transform="translate(286.56,778.3) rotate(-90)" y="8.7"><tspan x="-54.35" textLength="40.75" lengthAdjust="spacingAndGlyphs">feb-</tspan><tspan x="-13.6" textLength="13.6" lengthAdjust="spacingAndGlyphs">11</tspan></text>
<text transform="translate(319.37,778.3) rotate(-90)" y="8.7"><tspan x="-64.35" textLength="50.75" lengthAdjust="spacingAndGlyphs">may-</tspan><tspan x="-13.6" textLength="13.6" lengthAdjust="spacingAndGlyphs">11</tspan></text>
<text transform="translate(352.18,778.3) rotate(-90)" y="8.7"><tspan x="-60.35" textLength="46.75" lengthAdjust="spacingAndGlyphs">ago-</tspan><tspan x="-13.6" textLength="13.6" lengthAdjust="spacingAndGlyphs">11</tspan></text>
<text transform="translate(385,778.3) rotate(-90)" y="8.7"><tspan x="-59.35" textLength="45.75" lengthAdjust="spacingAndGlyphs">nov-</tspan><tspan x="-13.6" textLength="13.6" lengthAdjust="spacingAndGlyphs">11</tspan></text>
<text transform="translate(417.81,778.3) rotate(-90)" y="8.7"><tspan x="-60.05" textLength="40.75" lengthAdjust="spacingAndGlyphs">feb-</tspan><tspan x="-19.3" textLength="19.3" lengthAdjust="spacingAndGlyphs">12</tspan></text>
<text transform="translate(450.63,778.3) rotate(-90)" y="8.7"><tspan x="-70.05" textLength="50.75" lengthAdjust="spacingAndGlyphs">may-</tspan><tspan x="-19.3" textLength="19.3" lengthAdjust="spacingAndGlyphs">12</tspan></text>
<text transform="translate(483.44,778.3) rotate(-90)" y="8.7"><tspan x="-66.05" textLength="46.75" lengthAdjust="spacingAndGlyphs">ago-</tspan><tspan x="-19.3" textLength="19.3" lengthAdjust="spacingAndGlyphs">12</tspan></text>
<text transform="translate(516.25,778.3) rotate(-90)" y="8.7"><tspan x="-65.05" textLength="45.75" lengthAdjust="spacingAndGlyphs">nov-</tspan><tspan x="-19.3" textLength="19.3" lengthAdjust="spacingAndGlyphs">12</tspan></text>
<text transform="translate(549.07,778.3) rotate(-90)" y="8.7"><tspan x="-60.15" textLength="40.75" lengthAdjust="spacingAndGlyphs">feb-</tspan><tspan x="-19.4" textLength="19.4" lengthAdjust="spacingAndGlyphs">13</tspan></text>
<text transform="translate(581.88,778.3) rotate(-90)" y="8.7"><tspan x="-70.15" textLength="50.75" lengthAdjust="spacingAndGlyphs">may-</tspan><tspan x="-19.4" textLength="19.4" lengthAdjust="spacingAndGlyphs">13</tspan></text>
<text transform="translate(614.7,778.3) rotate(-90)" y="8.7"><tspan x="-66.15" textLength="46.75" lengthAdjust="spacingAndGlyphs">ago-</tspan><tspan x="-19.4" textLength="19.4" lengthAdjust="spacingAndGlyphs">13</tspan></text>
<text transform="translate(647.51,778.3) rotate(-90)" y="8.7"><tspan x="-65.15" textLength="45.75" lengthAdjust="spacingAndGlyphs">nov-</tspan><tspan x="-19.4" textLength="19.4" lengthAdjust="spacingAndGlyphs">13</tspan></text>
<text transform="translate(680.32,778.3) rotate(-90)" y="8.7"><tspan x="-60.95" textLength="40.75" lengthAdjust="spacingAndGlyphs">feb-</tspan><tspan x="-20.2" textLength="20.2" lengthAdjust="spacingAndGlyphs">14</tspan></text>
<text transform="translate(713.14,778.3) rotate(-90)" y="8.7"><tspan x="-70.95" textLength="50.75" lengthAdjust="spacingAndGlyphs">may-</tspan><tspan x="-20.2" textLength="20.2" lengthAdjust="spacingAndGlyphs">14</tspan></text>
<text transform="translate(745.95,778.3) rotate(-90)" y="8.7"><tspan x="-66.95" textLength="46.75" lengthAdjust="spacingAndGlyphs">ago-</tspan><tspan x="-20.2" textLength="20.2" lengthAdjust="spacingAndGlyphs">14</tspan></text>
<text transform="translate(778.77,778.3) rotate(-90)" y="8.7"><tspan x="-65.95" textLength="45.75" lengthAdjust="spacingAndGlyphs">nov-</tspan><tspan x="-20.2" textLength="20.2" lengthAdjust="spacingAndGlyphs">14</tspan></text>
<text transform="translate(811.58,778.3) rotate(-90)" y="8.7"><tspan x="-60.15" textLength="40.75" lengthAdjust="spacingAndGlyphs">feb-</tspan><tspan x="-19.4" textLength="19.4" lengthAdjust="spacingAndGlyphs">15</tspan></text>
<text transform="translate(844.39,778.3) rotate(-90)" y="8.7"><tspan x="-70.15" textLength="50.75" lengthAdjust="spacingAndGlyphs">may-</tspan><tspan x="-19.4" textLength="19.4" lengthAdjust="spacingAndGlyphs">15</tspan></text>
<text transform="translate(877.21,778.3) rotate(-90)" y="8.7"><tspan x="-66.15" textLength="46.75" lengthAdjust="spacingAndGlyphs">ago-</tspan><tspan x="-19.4" textLength="19.4" lengthAdjust="spacingAndGlyphs">15</tspan></text>
<text transform="translate(910.02,778.3) rotate(-90)" y="8.7"><tspan x="-65.15" textLength="45.75" lengthAdjust="spacingAndGlyphs">nov-</tspan><tspan x="-19.4" textLength="19.4" lengthAdjust="spacingAndGlyphs">15</tspan></text>
<text transform="translate(942.84,778.3) rotate(-90)" y="8.7"><tspan x="-60.55" textLength="40.75" lengthAdjust="spacingAndGlyphs">feb-</tspan><tspan x="-19.8" textLength="19.8" lengthAdjust="spacingAndGlyphs">16</tspan></text>
<text transform="translate(975.65,778.3) rotate(-90)" y="8.7"><tspan x="-70.55" textLength="50.75" lengthAdjust="spacingAndGlyphs">may-</tspan><tspan x="-19.8" textLength="19.8" lengthAdjust="spacingAndGlyphs">16</tspan></text>
<text transform="translate(1008.46,778.3) rotate(-90)" y="8.7"><tspan x="-66.55" textLength="46.75" lengthAdjust="spacingAndGlyphs">ago-</tspan><tspan x="-19.8" textLength="19.8" lengthAdjust="spacingAndGlyphs">16</tspan></text>
<text transform="translate(1041.28,778.3) rotate(-90)" y="8.7"><tspan x="-65.55" textLength="45.75" lengthAdjust="spacingAndGlyphs">nov-</tspan><tspan x="-19.8" textLength="19.8" lengthAdjust="spacingAndGlyphs">16</tspan></text>
<text transform="translate(1074.09,778.3) rotate(-90)" y="8.7"><tspan x="-59.15" textLength="40.75" lengthAdjust="spacingAndGlyphs">feb-</tspan><tspan x="-18.4" textLength="18.4" lengthAdjust="spacingAndGlyphs">17</tspan></text>
<text transform="translate(1106.91,778.3) rotate(-90)" y="8.7"><tspan x="-69.15" textLength="50.75" lengthAdjust="spacingAndGlyphs">may-</tspan><tspan x="-18.4" textLength="18.4" lengthAdjust="spacingAndGlyphs">17</tspan></text>
<text transform="translate(1139.72,778.3) rotate(-90)" y="8.7"><tspan x="-65.15" textLength="46.75" lengthAdjust="spacingAndGlyphs">ago-</tspan><tspan x="-18.4" textLength="18.4" lengthAdjust="spacingAndGlyphs">17</tspan></text>
<text transform="translate(1172.53,778.3) rotate(-90)" y="8.7"><tspan x="-64.15" textLength="45.75" lengthAdjust="spacingAndGlyphs">nov-</tspan><tspan x="-18.4" textLength="18.4" lengthAdjust="spacingAndGlyphs">17</tspan></text>
<text transform="translate(1205.35,778.3) rotate(-90)" y="8.7"><tspan x="-60.55" textLength="40.75" lengthAdjust="spacingAndGlyphs">feb-</tspan><tspan x="-19.8" textLength="19.8" lengthAdjust="spacingAndGlyphs">18</tspan></text>
<text transform="translate(1238.16,778.3) rotate(-90)" y="8.7"><tspan x="-70.55" textLength="50.75" lengthAdjust="spacingAndGlyphs">may-</tspan><tspan x="-19.8" textLength="19.8" lengthAdjust="spacingAndGlyphs">18</tspan></text>
<text transform="translate(1270.98,778.3) rotate(-90)" y="8.7"><tspan x="-66.55" textLength="46.75" lengthAdjust="spacingAndGlyphs">ago-</tspan><tspan x="-19.8" textLength="19.8" lengthAdjust="spacingAndGlyphs">18</tspan></text>
<text transform="translate(1303.79,778.3) rotate(-90)" y="8.7"><tspan x="-65.55" textLength="45.75" lengthAdjust="spacingAndGlyphs">nov-</tspan><tspan x="-19.8" textLength="19.8" lengthAdjust="spacingAndGlyphs">18</tspan></text>
<text transform="translate(1336.6,778.3) rotate(-90)" y="8.7"><tspan x="-60.55" textLength="40.75" lengthAdjust="spacingAndGlyphs">feb-</tspan><tspan x="-19.8" textLength="19.8" lengthAdjust="spacingAndGlyphs">19</tspan></text>
<text transform="translate(1369.42,778.3) rotate(-90)" y="8.7"><tspan x="-70.55" textLength="50.75" lengthAdjust="spacingAndGlyphs">may-</tspan><tspan x="-19.8" textLength="19.8" lengthAdjust="spacingAndGlyphs">19</tspan></text>
<text transform="translate(1402.23,778.3) rotate(-90)" y="8.7"><tspan x="-66.55" textLength="46.75" lengthAdjust="spacingAndGlyphs">ago-</tspan><tspan x="-19.8" textLength="19.8" lengthAdjust="spacingAndGlyphs">19</tspan></text>
<text transform="translate(1435.05,778.3) rotate(-90)" y="8.7"><tspan x="-65.55" textLength="45.75" lengthAdjust="spacingAndGlyphs">nov-</tspan><tspan x="-19.8" textLength="19.8" lengthAdjust="spacingAndGlyphs">19</tspan></text>
<text transform="translate(1467.86,778.3) rotate(-90)" y="8.7"><tspan x="-67.25" textLength="40.75" lengthAdjust="spacingAndGlyphs">feb-</tspan><tspan x="-26.5" textLength="26.5" lengthAdjust="spacingAndGlyphs">20</tspan></text>
<text transform="translate(1500.67,778.3) rotate(-90)" y="8.7"><tspan x="-77.25" textLength="50.75" lengthAdjust="spacingAndGlyphs">may-</tspan><tspan x="-26.5" textLength="26.5" lengthAdjust="spacingAndGlyphs">20</tspan></text>
<text transform="translate(1533.49,778.3) rotate(-90)" y="8.7"><tspan x="-73.25" textLength="46.75" lengthAdjust="spacingAndGlyphs">ago-</tspan><tspan x="-26.5" textLength="26.5" lengthAdjust="spacingAndGlyphs">20</tspan></text>
<text transform="translate(1566.3,778.3) rotate(-90)" y="8.7"><tspan x="-72.25" textLength="45.75" lengthAdjust="spacingAndGlyphs">nov-</tspan><tspan x="-26.5" textLength="26.5" lengthAdjust="spacingAndGlyphs">20</tspan></text>
<text transform="translate(1599.12,778.3) rotate(-90)" y="8.7"><tspan x="-60.05" textLength="40.75" lengthAdjust="spacingAndGlyphs">feb-</tspan><tspan x="-19.3" textLength="19.3" lengthAdjust="spacingAndGlyphs">21</tspan></text>
<text transform="translate(1631.93,778.3) rotate(-90)" y="8.7"><tspan x="-70.05" textLength="50.75" lengthAdjust="spacingAndGlyphs">may-</tspan><tspan x="-19.3" textLength="19.3" lengthAdjust="spacingAndGlyphs">21</tspan></text>
<text transform="translate(1664.74,778.3) rotate(-90)" y="8.7"><tspan x="-66.05" textLength="46.75" lengthAdjust="spacingAndGlyphs">ago-</tspan><tspan x="-19.3" textLength="19.3" lengthAdjust="spacingAndGlyphs">21</tspan></text>
<text transform="translate(1697.56,778.3) rotate(-90)" y="8.7"><tspan x="-65.05" textLength="45.75" lengthAdjust="spacingAndGlyphs">nov-</tspan><tspan x="-19.3" textLength="19.3" lengthAdjust="spacingAndGlyphs">21</tspan></text>
<text transform="translate(1730.37,778.3) rotate(-90)" y="8.7"><tspan x="-65.75" textLength="40.75" lengthAdjust="spacingAndGlyphs">feb-</tspan><tspan x="-25" textLength="25" lengthAdjust="spacingAndGlyphs">22</tspan></text>
<text transform="translate(1763.19,778.3) rotate(-90)" y="8.7"><tspan x="-75.75" textLength="50.75" lengthAdjust="spacingAndGlyphs">may-</tspan><tspan x="-25" textLength="25" lengthAdjust="spacingAndGlyphs">22</tspan></text>
<text transform="translate(1796,778.3) rotate(-90)" y="8.7"><tspan x="-71.75" textLength="46.75" lengthAdjust="spacingAndGlyphs">ago-</tspan><tspan x="-25" textLength="25" lengthAdjust="spacingAndGlyphs">22</tspan></text>
</g>
<g filter="url(#bt)">
<rect x="649" y="931" width="46" height="29" fill="url(#gl)"/>
<text class="lg" x="705" y="954" textLength="325" lengthAdjust="spacingAndGlyphs">Compras Netas Mensuales (Izq.)</text>
<rect x="1086" y="942" width="54" height="7" rx="1" fill="#22aa85"/>
<text class="lg" x="1154" y="954" textLength="173" lengthAdjust="spacingAndGlyphs">Saldo Total (der.)</text>
<text class="ft" x="134.5" y="1069.5" textLength="545.5" lengthAdjust="spacingAndGlyphs"><tspan class="ftb">Fuente.</tspan> SFIN. Datos con corte a 31 de agosto de 2022.</text>
</g>
</svg>
</body>
</html>
